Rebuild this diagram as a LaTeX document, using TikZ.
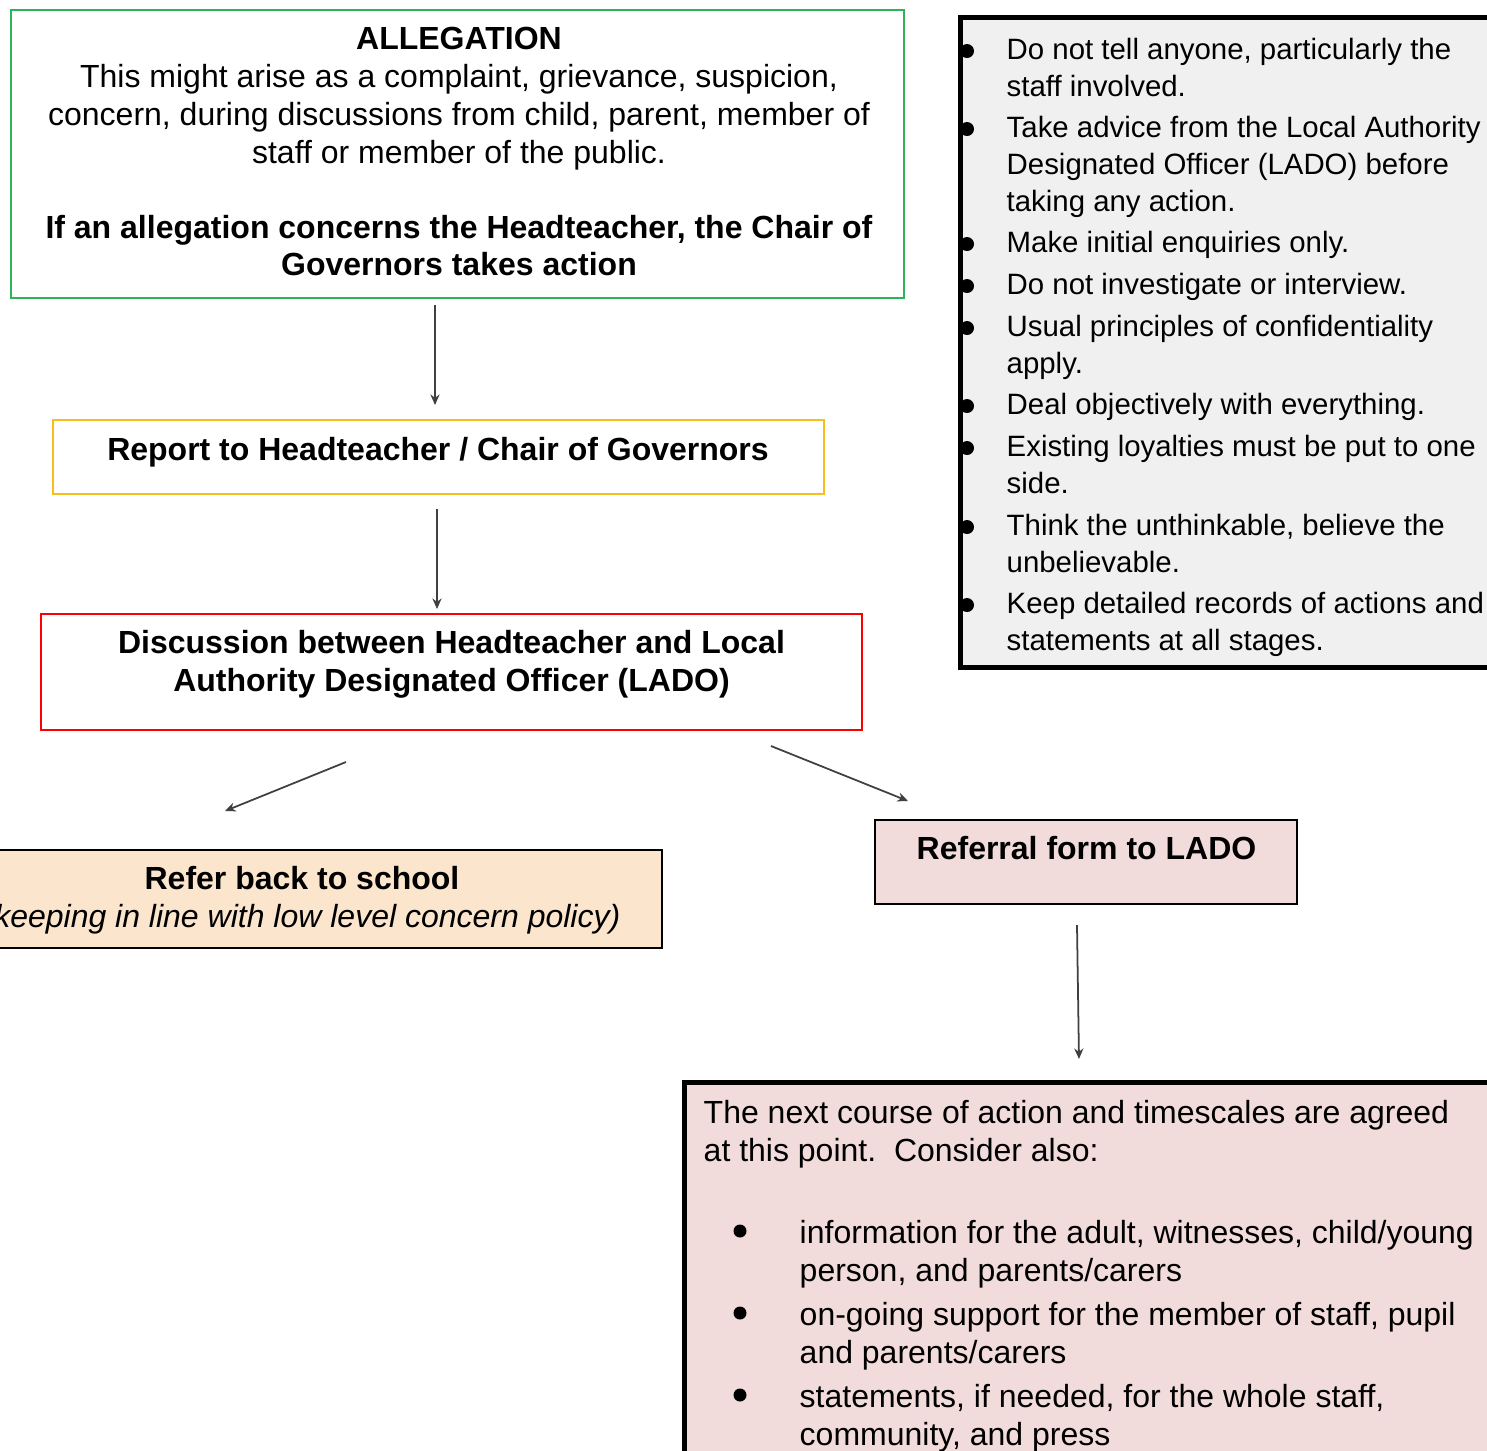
\documentclass[tikz,border=0pt]{standalone}
\usepackage{fontspec}
\setmainfont{Liberation Sans}
\usetikzlibrary{arrows.meta}

\definecolor{allegGreen}{HTML}{2EB35A}
\definecolor{reportYellow}{HTML}{F6BE1E}
\definecolor{discRed}{HTML}{FF0000}
\definecolor{referPeach}{HTML}{FCE5CD}
\definecolor{ladoPink}{HTML}{F2DBDB}
\definecolor{noteGray}{HTML}{F0F0F0}

\tikzset{
  box/.style={draw, rectangle, line width=0.6pt, inner sep=0pt},
  heavybox/.style={box, line width=1.4pt},
  maintxt/.style={font=\fontsize{9.1pt}{10.8pt}\selectfont, inner sep=0pt, align=center},
  boldtxt/.style={maintxt, font=\fontsize{9.1pt}{10.8pt}\selectfont\bfseries},
  notetxt/.style={font=\fontsize{8.36pt}{10.53pt}\selectfont, inner sep=0pt, align=left},
  flow/.style={draw=black!75, line width=0.5pt, -{Stealth[length=3pt,width=2.6pt]}},
  bul/.style={fill=black}
}

\begin{document}
\begin{tikzpicture}[x=0.01cm, y=-0.01cm]
  \useasboundingbox (0,0) rectangle (1487,1450);
  \clip (0,0) rectangle (1487,1450);

  % boxes
  \node[box, draw=allegGreen, minimum width=8.93cm, minimum height=2.88cm] (alleg) at (457.5,154) {};
  \node[box, draw=reportYellow, minimum width=7.71cm, minimum height=0.74cm] (report) at (438.5,457) {};
  \node[box, draw=discRed, minimum width=8.21cm, minimum height=1.16cm] (disc) at (451.5,672) {};
  \node[box, fill=referPeach, minimum width=7.2cm, minimum height=0.98cm] (referback) at (302,899) {};
  \node[box, fill=ladoPink, minimum width=4.22cm, minimum height=0.84cm] (referral) at (1086,862) {};
  \node[heavybox, fill=noteGray, minimum width=5.8cm, minimum height=6.5cm] (notes) at (1250.5,342.5) {};
  \node[heavybox, fill=ladoPink, minimum width=8.6cm, minimum height=4.2cm] (nextstep) at (1115,1292.5) {};

  % texts
  \node[maintxt, anchor=north] (allegtxt) at (459,26) {\textbf{ALLEGATION}\\
    This might arise as a complaint, grievance, suspicion,\\
    concern, during discussions from child, parent, member of\\
    staff or member of the public.\\[0.37cm]
    \textbf{If an allegation concerns the Headteacher, the Chair of}\\
    \textbf{Governors takes action}};
  \node[boldtxt, anchor=base] (reporttxt) at (438,460) {Report to Headteacher / Chair of Governors};
  \node[boldtxt, anchor=north] (disctxt) at (451.5,629.5) {Discussion between Headteacher and Local\\
    Authority Designated Officer (LADO)};
  \node[maintxt, anchor=north] (referbacktxt) at (302,866) {\textbf{Refer back to school}\\
    \textit{(keeping in line with low level concern policy)}};
  \node[boldtxt, anchor=base] (referraltxt) at (1086.5,859) {Referral form to LADO};

  % notes list
  \foreach \base/\txt [count=\i] in {
      59/{Do not tell anyone, particularly the\\staff involved.},
      137/{Take advice from the Local Authority\\Designated Officer (LADO) before\\taking any action.},
      252/{Make initial enquiries only.},
      294/{Do not investigate or interview.},
      336/{Usual principles of confidentiality\\apply.},
      414/{Deal objectively with everything.},
      456/{Existing loyalties must be put to one\\side.},
      535/{Think the unthinkable, believe the\\unbelievable.},
      613/{Keep detailed records of actions and\\statements at all stages.}}
  {
    \node[notetxt, anchor=north west] (note\i) at (1006,\base-21.5) {\txt};
    \fill[bul] (967,\base-8) circle[radius=7];
  }

  % next steps
  \node[maintxt, align=left, anchor=north west] (nexttxt) at (703,1099.7)
    {The next course of action and timescales are agreed\\at this point.\ \ Consider also:};
  \foreach \base/\txt [count=\i] in {
      1243/{information for the adult, witnesses, child/young\\person, and parents/carers},
      1325/{on-going support for the member of staff, pupil\\and parents/carers},
      1407/{statements, if needed, for the whole staff,\\community, and press}}
  {
    \node[maintxt, align=left, anchor=north west] (consider\i) at (799,\base-23.3) {\txt};
    \fill[bul] (740,\base-12) circle[radius=6.5];
  }

  % arrows
  \coordinate (a1top) at (435,305);
  \coordinate (a1tip) at (435,405);
  \coordinate (a2top) at (437,509);
  \coordinate (a2tip) at (437,609);
  \coordinate (a3top) at (346,762);
  \coordinate (a3tip) at (225,811);
  \coordinate (a4top) at (771,746);
  \coordinate (a4tip) at (908,801);
  \coordinate (a5top) at (1077,925);
  \coordinate (a5tip) at (1079,1059);
  \draw[flow] (a1top) -- (a1tip);
  \draw[flow] (a2top) -- (a2tip);
  \draw[flow] (a3top) -- (a3tip);
  \draw[flow] (a4top) -- (a4tip);
  \draw[flow] (a5top) -- (a5tip);
\end{tikzpicture}
\end{document}
